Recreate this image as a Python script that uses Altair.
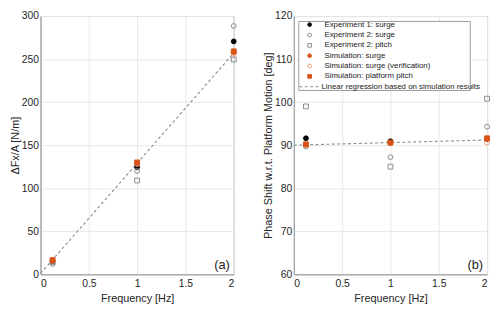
import altair as alt
import pandas as pd

freqs = [0.125, 1.0, 2.0]

series_names = [
    "Experiment 1: surge",
    "Experiment 2: surge",
    "Experiment 2: pitch",
    "Simulation: surge",
    "Simulation: surge (verification)",
    "Simulation: platform pitch",
]
reg_name = "Linear regression based on simulation results"

# Panel (a): force amplitude per unit motion amplitude
force_exp1 = [15.0, 124.5, 270.5]
force_exp2_surge = [12.0, 120.0, 288.5]
force_exp2_pitch = [14.0, 109.0, 249.5]
force_sim_surge = [16.0, 129.0, 258.0]
force_sim_verif = [15.5, 128.0, 256.0]
force_sim_pitch = [16.5, 130.0, 259.0]

# Panel (b): phase shift
phase_exp1 = [91.6, 90.9, 91.5]
phase_exp2_surge = [89.7, 87.2, 94.3]
phase_exp2_pitch = [99.0, 85.0, 100.8]
phase_sim_surge = [90.1, 90.5, 91.4]
phase_sim_verif = [90.0, 90.4, 90.6]
phase_sim_pitch = [90.2, 90.6, 91.6]

reg_x = [0.0, 2.0]
reg_force = [1.0, 257.0]
reg_phase = [90.0, 91.2]

force_series = [force_exp1, force_exp2_surge, force_exp2_pitch,
                force_sim_surge, force_sim_verif, force_sim_pitch]
phase_series = [phase_exp1, phase_exp2_surge, phase_exp2_pitch,
                phase_sim_surge, phase_sim_verif, phase_sim_pitch]


def long_df(series_list):
    rows = []
    for i, (name, vals) in enumerate(zip(series_names, series_list)):
        for f, v in zip(freqs, vals):
            rows.append({"f": f, "v": v, "series": name, "idx": i})
    return pd.DataFrame(rows)


df_force = long_df(force_series)
df_phase = long_df(phase_series)
df_reg_force = pd.DataFrame({"f": reg_x, "v": reg_force, "name": reg_name})
df_reg_phase = pd.DataFrame({"f": reg_x, "v": reg_phase, "name": reg_name})

ORANGE = "#D95319"
LIGHT_ORANGE = "#EFA27A"
GRAY = "#8C8C8C"

shape_range = ["circle", "circle", "square", "circle", "circle", "square"]
stroke_range = ["#000000", GRAY, GRAY, ORANGE, LIGHT_ORANGE, ORANGE]
fill_range = ["#000000", "transparent", "transparent", ORANGE, "transparent", ORANGE]
size_range = [24, 24, 16, 24, 24, 12]

W, H = 196, 262
FONT = "Liberation Sans"


def panel(df, df_reg, ydom, ytitle, ystep, label, show_legend):
    if show_legend:
        leg = alt.Legend(
            title=None, orient="none", legendX=6, legendY=4.7,
            padding=0, labelFontSize=8, labelFont=FONT, labelColor="#222222",
            rowPadding=2.5, symbolStrokeWidth=1, labelLimit=300,
            symbolSize=14, symbolOffset=6, labelOffset=11,
        )
        line_leg = alt.Legend(
            title=None, orient="none", legendX=5, legendY=60.7,
            padding=0, labelFontSize=8, labelFont=FONT, labelColor="#222222",
            symbolType="stroke", symbolSize=441, symbolStrokeColor=GRAY,
            symbolStrokeWidth=1, labelLimit=300, labelOffset=1, symbolOffset=0,
        )
    else:
        leg = None
        line_leg = None
    xenc = alt.X("f:Q", title="Frequency [Hz]",
                 scale=alt.Scale(domain=[0, 2], nice=False),
                 axis=alt.Axis(values=[0, 0.5, 1, 1.5, 2], format="~g"))
    yenc = alt.Y("v:Q", title=ytitle,
                 scale=alt.Scale(domain=ydom, nice=False),
                 axis=alt.Axis(values=list(range(ydom[0], ydom[1] + 1, ystep))))
    line = alt.Chart(df_reg).mark_line(
        color=GRAY, strokeWidth=1.1
    ).encode(
        x=xenc, y=yenc,
        strokeDash=alt.StrokeDash("name:N", scale=alt.Scale(domain=[reg_name], range=[[3, 2.5]]),
                                  legend=line_leg),
    )
    pts = alt.Chart(df).mark_point(strokeWidth=1, opacity=1).encode(
        x=xenc, y=yenc,
        size=alt.Size("idx:O", scale=alt.Scale(domain=list(range(6)), range=size_range), legend=None),
        shape=alt.Shape("series:N", scale=alt.Scale(domain=series_names, range=shape_range), legend=leg),
        stroke=alt.Stroke("series:N", scale=alt.Scale(domain=series_names, range=stroke_range), legend=leg),
        fill=alt.Fill("series:N", scale=alt.Scale(domain=series_names, range=fill_range), legend=leg),
        order=alt.Order("idx:Q"),
    )
    txt = alt.Chart(pd.DataFrame({"t": [label]})).mark_text(
        align="right", baseline="bottom", fontSize=13, font=FONT, color="#222222"
    ).encode(text="t:N", x=alt.value(W - 4), y=alt.value(H - 2))
    layers = [line, pts, txt]
    if show_legend:
        box = alt.Chart(pd.DataFrame({"k": [0]})).mark_rect(
            fill="white", stroke="#9a9a9a", strokeWidth=1
        ).encode(x=alt.value(5), x2=alt.value(179), y=alt.value(5.5), y2=alt.value(75.5))
        layers.append(box)
    return alt.layer(*layers).properties(width=W, height=H)


left = panel(df_force, df_reg_force, [0, 300], "\u0394Fx/A [N/m]", 50, "(a)", False)
right = panel(df_phase, df_reg_phase, [60, 120],
              "Phase Shift w.r.t. Platform Motion [deg]", 10, "(b)", True)

chart = alt.hconcat(left, right, spacing=23).resolve_scale(
    shape="independent", stroke="independent", fill="independent", size="independent",
    strokeDash="independent"
).resolve_legend(
    shape="independent", stroke="independent", fill="independent", size="independent",
    strokeDash="independent"
).properties(
    padding=0
).configure_view(
    stroke="#9a9a9a", strokeWidth=1
).configure_axis(
    labelFont=FONT, titleFont=FONT, labelFontSize=10.5, titleFontSize=11,
    titleFontWeight="normal", labelColor="#262626", titleColor="#262626",
    gridColor="#e8e8e8", gridWidth=1, domainColor="#9a9a9a", ticks=False,
    labelPadding=2, titlePadding=1
).configure_axisX(labelPadding=4, titlePadding=4)

chart.save("out.html", embed_options={"renderer": "svg", "actions": False})
